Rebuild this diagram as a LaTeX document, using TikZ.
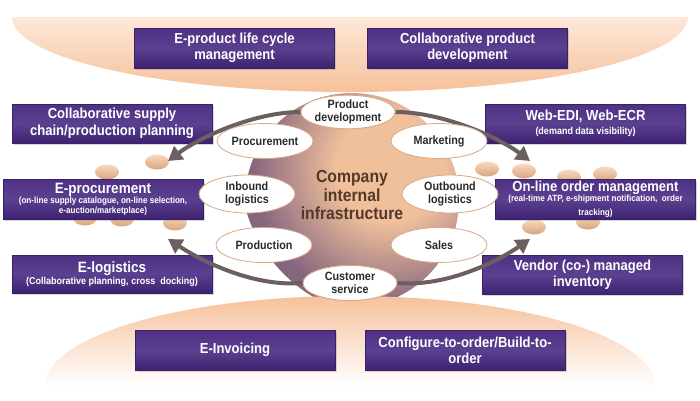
\documentclass[tikz,border=0pt]{standalone}
\usepackage{fontspec}
\setmainfont{Liberation Sans}[FakeStretch=0.9]
\usetikzlibrary{arrows.meta,shapes.geometric,shadows}
\definecolor{topLight}{HTML}{FDE8D9}
\definecolor{topDark}{HTML}{F6C099}
\definecolor{botPeach}{HTML}{F6C19B}
\definecolor{botMid}{HTML}{FADCC6}
\definecolor{circIn}{HTML}{F0C09B}
\definecolor{circOut}{HTML}{86657F}
\definecolor{bubLight}{HTML}{F9DAC0}
\definecolor{bubDark}{HTML}{D9A47C}
\definecolor{boxTop}{HTML}{4F3184}
\definecolor{boxMid}{HTML}{5B4090}
\definecolor{boxBot}{HTML}{3E2271}
\definecolor{boxLine}{HTML}{3A2068}
\definecolor{ellLine}{HTML}{D6A986}
\definecolor{ellText}{HTML}{2A2A2A}
\definecolor{coreText}{HTML}{55382A}
\definecolor{arrowGray}{HTML}{6C5F5F}
\pgfdeclareradialshading{sphereShade}{\pgfpoint{0bp}{0bp}}{color(0bp)=(circIn); color(9bp)=(circIn); color(23bp)=(circOut); color(50bp)=(circOut)}
\tikzset{
  pbox/.style={rectangle, top color=boxTop, bottom color=boxBot, middle color=boxMid,
    draw=boxLine, line width=0.5pt, text=white, align=center, inner sep=0pt,
    minimum width=200pt, minimum height=40pt,
    drop shadow={shadow xshift=1.5pt, shadow yshift=-1.5pt, opacity=0.3},
    font=\bfseries\fontsize{14.5}{16}\selectfont},
  ell/.style={ellipse, draw=ellLine, fill=white, line width=0.8pt,
    minimum width=96pt, minimum height=35pt, inner sep=0pt, align=center,
    text=ellText, font=\bfseries\fontsize{12}{12.5}\selectfont},
  garrow/.style={draw=arrowGray, line width=4pt, -{Triangle[length=14pt,width=16pt]}},
  bubble/.style={top color=bubLight, bottom color=bubDark}
}
\begin{document}
\begin{tikzpicture}[x=1pt,y=-1pt]
\useasboundingbox (0,0) rectangle (700,400);
\fill[white] (0,0) rectangle (700,400);
% top peach shape
\begin{scope}
  \clip (350,17) ellipse [x radius=338pt, y radius=75pt];
  \shade[top color=topLight, bottom color=topDark] (0,17) rectangle (700,93);
\end{scope}
% central sphere
\begin{scope}
  \clip (352,200) circle (107pt);
  \shade[shading=sphereShade] (390,168) circle (150pt);
\end{scope}
% bottom peach shape
\begin{scope}
  \clip (350,386) ellipse [x radius=305pt, y radius=90pt];
  \shade[top color=botPeach, middle color=botMid, bottom color=white] (0,296) rectangle (700,386);
\end{scope}
% bubbles
\foreach \bx/\by in {157/162, 107/172, 85/218, 122/219, 175/223,
                     487/169, 524/171, 569/177, 605/174, 534/227, 588/222}
  \shade[bubble] (\bx,\by) ellipse [x radius=12pt, y radius=7.5pt];
% purple boxes
\node[pbox] (eplm) at (234.5,48) {E-product life cycle\\management};
\node[pbox] (cpd) at (467.5,48) {Collaborative product\\development};
\node[pbox] (einv) at (235,350) {E-Invoicing};
\node[pbox] (cto) at (465,350) {Configure-to-order/Build-to-\\order};
\node[pbox, minimum height=39pt, font=\bfseries\fontsize{14.5}{16.5}\selectfont] (csc) at (112,123.5) {Collaborative supply\\chain/production planning};
\node[pbox, font=\bfseries\fontsize{9}{9.5}\selectfont] (eproc) at (103,199)
  {{\fontsize{15}{15}\selectfont E-procurement}\\(on-line supply catalogue, on-line selection,\\e-auction/marketplace)};
\node[pbox, minimum height=38pt, font=\bfseries\fontsize{10}{11}\selectfont] (elog) at (112,274)
  {{\fontsize{15}{15}\selectfont E-logistics}\\[0.5pt](Collaborative planning, cross\ \ docking)};
\node[pbox, minimum height=39pt, font=\bfseries\fontsize{10}{11}\selectfont] (wedi) at (585.5,123.5)
  {{\fontsize{14.5}{15}\selectfont Web-EDI, Web-ECR}\\[3pt](demand data visibility)};
\node[pbox, font=\bfseries\fontsize{9}{9.5}\selectfont] (olom) at (595.5,199)
  {{\fontsize{14.5}{15}\selectfont On-line order management}\\(real-time ATP, e-shipment notification,\ \ order\\[4.5pt]tracking)};
\node[pbox, minimum height=39pt] (vmi) at (582.5,274.5) {Vendor (co-) managed\\inventory};
% core text
\node[font=\bfseries\fontsize{17.5}{18.5}\selectfont, text=coreText, align=center] (core) at (352,195)
  {Company\\internal\\infrastructure};
% arrow end points
\coordinate (tL1) at (168,161);
\coordinate (tR1) at (530,161);
\coordinate (tL2) at (168,239);
\coordinate (tR2) at (530,239);
% anchors for the arrows
\path (348,112) node[ell, minimum width=93pt, minimum height=31pt] (pd) {Product\\development};
\path (350,283) node[ell, minimum width=94pt, minimum height=35pt] (cs) {Customer\\service};
% arrows
\draw[garrow] (pd.west) .. controls (255,112) and (200,137) .. (tL1);
\draw[garrow] (pd.east) .. controls (442,112) and (498,137) .. (tR1);
\draw[garrow] (cs.west) .. controls (255,287) and (205,263) .. (tL2);
\draw[garrow] (cs.east) .. controls (445,287) and (495,263) .. (tR2);
% ellipses on top of arrows
\node[ell, minimum width=93pt, minimum height=31pt] at (pd) {Product\\development};
\node[ell, minimum width=94pt, minimum height=35pt] at (cs) {Customer\\service};
\node[ell] (proc) at (265,141) {Procurement};
\node[ell] (mkt) at (439,141) {Marketing};
\node[ell, minimum height=38pt] (inb) at (247,194) {Inbound\\logistics};
\node[ell, minimum height=38pt] (outb) at (450,194) {Outbound\\logistics};
\node[ell] (prodn) at (264,245) {Production};
\node[ell] (sales) at (439,245) {Sales};
\end{tikzpicture}
\end{document}
